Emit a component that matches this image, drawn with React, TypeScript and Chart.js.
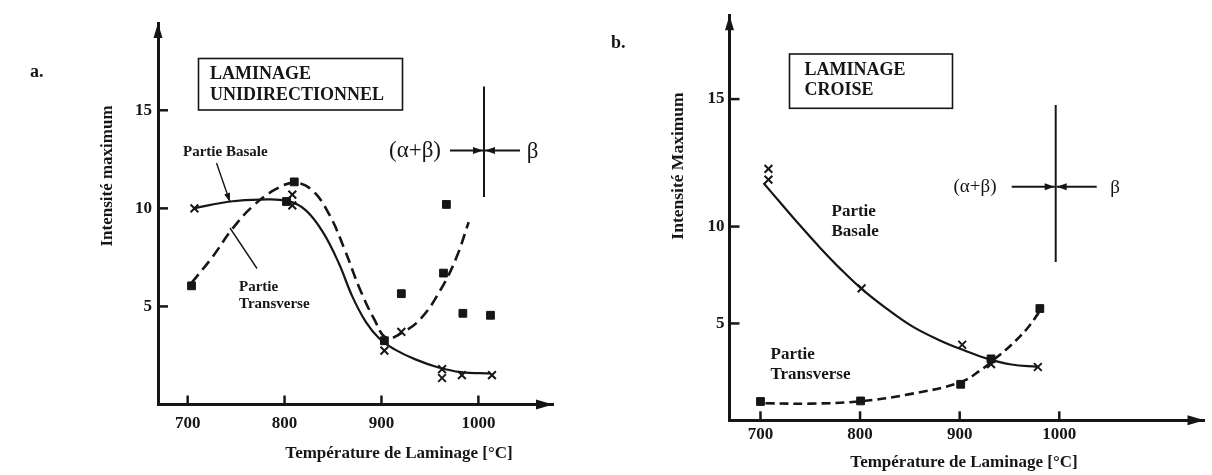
import React, { useEffect, useRef } from 'react';
import { Chart, registerables } from 'chart.js';

Chart.register(...registerables);

type Pt = [number, number];

// ---------- Panel a : laminage unidirectionnel ----------
const xTicksA = [700, 800, 900, 1000];
const xTickLabelsA = ['700', '800', '900', '1000'];
const yTicksA = [5, 10, 15];
const yTickLabelsA = ['5', '10', '15'];
// fitted curves
const basaleCurveA: Pt[] = [
  [706, 10.0], [744, 10.35], [775, 10.45], [803, 10.38], [822, 9.9], [840, 8.75],
  [856, 7.2], [870, 5.5], [884, 4.2], [898, 3.35], [914, 2.8], [935, 2.3],
  [958, 1.9], [982, 1.65], [1013, 1.58],
];
const transverseCurveA: Pt[] = [
  [704, 6.2], [726, 7.55], [746, 8.95], [767, 10.1], [790, 10.95], [810, 11.3],
  [828, 10.95], [846, 9.7], [862, 7.9], [878, 5.85], [893, 4.3], [905, 3.4],
  [921, 3.65], [941, 4.4], [961, 5.85], [977, 7.45], [990, 9.3],
];
// measured points
const basaleMarksA: Pt[] = [
  [707, 10.0], [808, 10.7], [808, 10.15], [903, 2.75], [920.5, 3.7],
  [962.5, 1.8], [962.5, 1.35], [983, 1.5], [1014, 1.5],
];
const transverseMarksA: Pt[] = [
  [704, 6.05], [802, 10.35], [810, 11.35], [903, 3.25], [920.5, 5.65],
  [964, 6.7], [967, 10.2], [984, 4.65], [1012.5, 4.55],
];

// ---------- Panel b : laminage croisé ----------
const xTicksB = [700, 800, 900, 1000];
const xTickLabelsB = ['700', '800', '900', '1000'];
const yTicksB = [5, 10, 16.58]; // "15" is drawn higher than linear in the original
const yTickLabelsB = ['5', '10', '15'];
const basaleCurveB: Pt[] = [
  [703, 12.25], [720, 11.23], [740, 10.04], [760, 8.9], [780, 7.83], [801, 6.81],
  [826, 5.79], [852, 4.86], [879, 4.15], [906, 3.58], [929, 3.16], [952, 2.88],
  [978, 2.76],
];
const transverseCurveB: Pt[] = [
  [705, 0.88], [750, 0.86], [800, 0.98], [850, 1.35], [900, 1.95], [920, 2.55],
  [936, 3.2], [952, 3.9], [968, 4.75], [980, 5.6],
];
const basaleMarksB: Pt[] = [
  [708, 12.98], [708, 12.42], [801.5, 6.81], [902.5, 3.9], [931.5, 2.9], [978.5, 2.75],
];
const transverseMarksB: Pt[] = [
  [700, 0.97], [800.5, 1.0], [901, 1.86], [931.5, 3.17], [980.5, 5.77],
];

const SERIF = "'Liberation Serif', 'Times New Roman', Times, serif";
const INK = '#161616';

const toXY = (pts: Pt[]) => pts.map(([x, y]) => ({ x, y }));

function arrowHead(ctx: CanvasRenderingContext2D, x: number, y: number, dx: number, dy: number, len: number, half: number) {
  ctx.beginPath();
  ctx.moveTo(x, y);
  ctx.lineTo(x - dx * len - dy * half, y - dy * len + dx * half);
  ctx.lineTo(x - dx * len + dy * half, y - dy * len - dx * half);
  ctx.closePath();
  ctx.fill();
}

function line(ctx: CanvasRenderingContext2D, x1: number, y1: number, x2: number, y2: number) {
  ctx.beginPath();
  ctx.moveTo(x1, y1);
  ctx.lineTo(x2, y2);
  ctx.stroke();
}

const decoPlugin = {
  id: 'deco',
  afterDraw(chart: any, _args: any, o: any) {
    const { ctx, chartArea: ca, scales } = chart;
    ctx.save();
    ctx.strokeStyle = INK;
    ctx.fillStyle = INK;
    ctx.lineCap = 'butt';
    // inside tick marks
    ctx.lineWidth = 2.5;
    scales.x.ticks.forEach((t: any) => {
      const px = scales.x.getPixelForValue(t.value);
      line(ctx, px, ca.bottom, px, ca.bottom - o.tickLen);
    });
    scales.y.ticks.forEach((t: any) => {
      const py = scales.y.getPixelForValue(t.value);
      line(ctx, ca.left, py, ca.left + o.tickLen + 1, py);
    });
    // axis arrowheads
    arrowHead(ctx, ca.left, ca.top, 0, -1, 15, 4.5);
    arrowHead(ctx, ca.right, ca.bottom, 1, 0, 17, 5);

    // axis titles
    ctx.textBaseline = 'middle';
    ctx.textAlign = 'center';
    ctx.font = `bold ${o.xTitle.size}px ${SERIF}`;
    ctx.fillText(o.xTitle.text, o.xTitle.x, o.xTitle.y);
    ctx.save();
    ctx.translate(o.yTitle.x, o.yTitle.y);
    ctx.rotate(-Math.PI / 2);
    ctx.font = `bold ${o.yTitle.size}px ${SERIF}`;
    ctx.fillText(o.yTitle.text, 0, 0);
    ctx.restore();

    // panel letter
    ctx.font = `bold 18px ${SERIF}`;
    ctx.textAlign = 'left';
    ctx.fillText(o.letter.text, o.letter.x, o.letter.y);

    // title box
    ctx.lineWidth = 1.6;
    ctx.strokeRect(o.box.x, o.box.y, o.box.w, o.box.h);
    ctx.font = `bold ${o.box.size}px ${SERIF}`;
    o.box.lines.forEach((s: string, i: number) => ctx.fillText(s, o.box.tx, o.box.ty[i]));

    // notes
    o.notes.forEach((n: any) => {
      ctx.font = `bold ${n.size}px ${SERIF}`;
      ctx.textAlign = 'left';
      ctx.fillText(n.text, n.x, n.y);
    });
    // leader lines
    ctx.lineWidth = 1.4;
    o.leaders.forEach((l: any) => {
      line(ctx, l.x1, l.y1, l.x2, l.y2);
      if (l.head) {
        const dx = l.x2 - l.x1, dy = l.y2 - l.y1, d = Math.hypot(dx, dy);
        arrowHead(ctx, l.x2, l.y2, dx / d, dy / d, 9, 3);
      }
    });

    // phase boundary marker
    const p = o.phase;
    ctx.lineWidth = 2;
    line(ctx, p.x, p.yTop, p.x, p.yBot);
    line(ctx, p.xFrom, p.y, p.x - 1, p.y);
    line(ctx, p.xTo, p.y, p.x + 1, p.y);
    arrowHead(ctx, p.x - 1, p.y, 1, 0, 10, 3.5);
    arrowHead(ctx, p.x + 1, p.y, -1, 0, 10, 3.5);
    ctx.font = `${p.size}px ${SERIF}`;
    ctx.textAlign = 'center';
    ctx.fillText(p.label, p.labelX, p.y);
    ctx.fillText(p.beta, p.betaX, p.y + 1);
    ctx.restore();
  },
};

type Panel = {
  width: number;
  height: number;
  area: { left: number; top: number; right: number; bottom: number };
  xRange: [number, number];
  yRange: [number, number];
  xTicks: number[];
  xTickLabels: string[];
  yTicks: number[];
  yTickLabels: string[];
  xPad: number;
  yPad: number;
  basaleCurve: Pt[];
  transverseCurve: Pt[];
  basaleMarks: Pt[];
  transverseMarks: Pt[];
  dash: number[];
  deco: any;
};

const panelA: Panel = {
  width: 600,
  height: 475,
  area: { left: 158, top: 23, right: 553, bottom: 404.5 },
  xRange: [669.4, 1077],
  yRange: [0, 19.45],
  xTicks: xTicksA,
  xTickLabels: xTickLabelsA,
  yTicks: yTicksA,
  yTickLabels: yTickLabelsA,
  xPad: 8.5,
  yPad: 6,
  basaleCurve: basaleCurveA,
  transverseCurve: transverseCurveA,
  basaleMarks: basaleMarksA,
  transverseMarks: transverseMarksA,
  dash: [11, 6],
  deco: {
    tickLen: 9,
    xTitle: { text: 'Température de Laminage [°C]', x: 399, y: 454, size: 17 },
    yTitle: { text: 'Intensité maximum', x: 108, y: 176, size: 17 },
    letter: { text: 'a.', x: 30, y: 72 },
    box: { x: 198.5, y: 58.5, w: 204, h: 51.5, size: 18, tx: 210, ty: [74.5, 95.5], lines: ['LAMINAGE', 'UNIDIRECTIONNEL'] },
    notes: [
      { text: 'Partie Basale', x: 183, y: 152, size: 15 },
      { text: 'Partie', x: 239, y: 287.5, size: 15 },
      { text: 'Transverse', x: 239, y: 304.5, size: 15 },
    ],
    leaders: [
      { x1: 216.5, y1: 163, x2: 230, y2: 202, head: true },
      { x1: 257, y1: 268.5, x2: 230, y2: 228, head: false },
    ],
    phase: { x: 484, yTop: 86.5, yBot: 197, y: 150.5, xFrom: 450, xTo: 520, label: '(α+β)', labelX: 415, beta: 'β', betaX: 532.5, size: 23 },
  },
};

const panelB: Panel = {
  width: 612,
  height: 475,
  area: { left: 129.5, top: 10, right: 605, bottom: 420.3 },
  xRange: [668.9, 1145.8],
  yRange: [0, 20.91],
  xTicks: xTicksB,
  xTickLabels: xTickLabelsB,
  yTicks: yTicksB,
  yTickLabels: yTickLabelsB,
  xPad: 4.5,
  yPad: 5,
  basaleCurve: basaleCurveB,
  transverseCurve: transverseCurveB,
  basaleMarks: basaleMarksB,
  transverseMarks: transverseMarksB,
  dash: [9, 5],
  deco: {
    tickLen: 9,
    xTitle: { text: 'Température de Laminage [°C]', x: 364, y: 463, size: 17 },
    yTitle: { text: 'Intensité Maximum', x: 78, y: 166, size: 17.5 },
    letter: { text: 'b.', x: 11, y: 43 },
    box: { x: 189.5, y: 54, w: 163, h: 54.3, size: 18, tx: 204.5, ty: [70, 90], lines: ['LAMINAGE', 'CROISE'] },
    notes: [
      { text: 'Partie', x: 231.5, y: 211.5, size: 17 },
      { text: 'Basale', x: 231.5, y: 231.5, size: 17 },
      { text: 'Partie', x: 170.5, y: 355, size: 17 },
      { text: 'Transverse', x: 170.5, y: 375, size: 17 },
    ],
    leaders: [],
    phase: { x: 455.7, yTop: 105, yBot: 262, y: 186.7, xFrom: 411.7, xTo: 496.7, label: '(α+β)', labelX: 375, beta: 'β', betaX: 515, size: 19 },
  },
};

function buildConfig(p: Panel): any {
  const tickFont = { family: SERIF, size: 17, weight: 'bold' as const };
  return {
    type: 'scatter',
    data: {
      datasets: [
        {
          label: 'Partie Basale (courbe)',
          data: toXY(p.basaleCurve),
          showLine: true,
          borderColor: INK,
          borderWidth: 2.2,
          pointRadius: 0,
          tension: 0.4,
          fill: false,
        },
        {
          label: 'Partie Transverse (courbe)',
          data: toXY(p.transverseCurve),
          showLine: true,
          borderColor: INK,
          borderWidth: 2.6,
          borderDash: p.dash,
          pointRadius: 0,
          tension: 0.4,
          fill: false,
        },
        {
          label: 'Partie Basale',
          data: toXY(p.basaleMarks),
          showLine: false,
          pointStyle: 'crossRot',
          pointRadius: 5.5,
          borderColor: INK,
          backgroundColor: INK,
          borderWidth: 2,
        },
        {
          label: 'Partie Transverse',
          data: toXY(p.transverseMarks),
          showLine: false,
          pointStyle: 'rect',
          pointRadius: 5.5,
          borderColor: INK,
          backgroundColor: INK,
          borderWidth: 1,
        },
      ],
    },
    options: {
      animation: false,
      responsive: false,
      events: [],
      layout: { padding: { left: 0, top: p.area.top, right: p.width - p.area.right, bottom: 0 } },
      plugins: {
        legend: { display: false },
        tooltip: { enabled: false },
        deco: p.deco,
      },
      scales: {
        x: {
          type: 'linear',
          min: p.xRange[0],
          max: p.xRange[1],
          border: { display: true, color: INK, width: 3 },
          grid: { display: false, drawTicks: false },
          ticks: {
            font: tickFont,
            color: INK,
            padding: p.xPad,
            autoSkip: false,
            maxRotation: 0,
            callback: (_v: any, i: number) => p.xTickLabels[i],
          },
          afterBuildTicks: (s: any) => {
            s.ticks = p.xTicks.map((v) => ({ value: v }));
          },
          afterFit: (s: any) => {
            s.height = p.height - p.area.bottom;
          },
        },
        y: {
          type: 'linear',
          min: p.yRange[0],
          max: p.yRange[1],
          border: { display: true, color: INK, width: 3 },
          grid: { display: false, drawTicks: false },
          ticks: {
            font: tickFont,
            color: INK,
            padding: p.yPad,
            autoSkip: false,
            callback: (_v: any, i: number) => p.yTickLabels[i],
          },
          afterBuildTicks: (s: any) => {
            s.ticks = p.yTicks.map((v) => ({ value: v }));
          },
          afterFit: (s: any) => {
            s.width = p.area.left;
          },
        },
      },
    },
    plugins: [decoPlugin],
  };
}

function PanelChart({ panel, left }: { panel: Panel; left: number }) {
  const ref = useRef<HTMLCanvasElement | null>(null);
  useEffect(() => {
    if (!ref.current) return;
    const chart = new Chart(ref.current, buildConfig(panel));
    return () => chart.destroy();
  }, [panel]);
  return (
    <canvas
      ref={ref}
      width={panel.width}
      height={panel.height}
      style={{ position: 'absolute', left, top: 0, width: panel.width, height: panel.height }}
    />
  );
}

export default function App() {
  return (
    <div style={{ position: 'absolute', left: 0, top: 0, width: 1212, height: 475, background: '#ffffff', overflow: 'hidden' }}>
      <PanelChart panel={panelA} left={0} />
      <PanelChart panel={panelB} left={600} />
    </div>
  );
}
